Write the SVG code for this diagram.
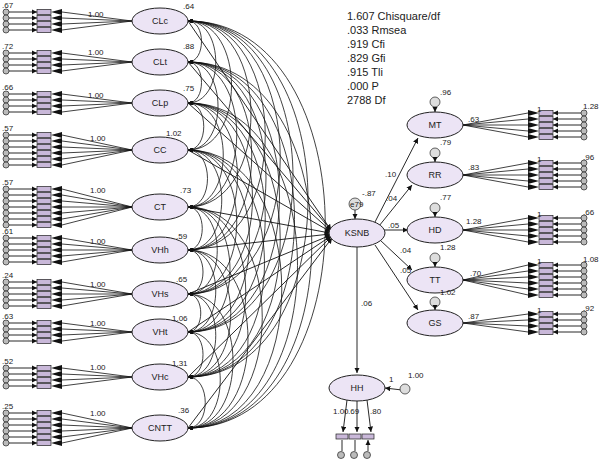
<svg xmlns="http://www.w3.org/2000/svg" xmlns:xlink="http://www.w3.org/1999/xlink" width="600" height="462" viewBox="0 0 600 462">
<style>
text{font-family:"Liberation Sans",Arial,sans-serif;font-size:8px;fill:#222}
.lat{fill:#ece4f5;stroke:#222;stroke-width:1}
.ln{fill:none;stroke:#111;stroke-width:0.8}
.cv{fill:none;stroke:#111;stroke-width:0.8;marker-start:url(#ah);marker-end:url(#ah)}
.ar{fill:none;stroke:#111;stroke-width:0.9;marker-end:url(#ah)}
.st{font-size:11px}
.nm{font-size:9px;text-anchor:middle}
</style>
<defs>
<marker id="ah" viewBox="0 0 10 10" refX="10" refY="5" markerWidth="6" markerHeight="6" orient="auto-start-reverse"><path d="M0,0L10,5L0,10z" fill="#111"/></marker>
<g id="row">
<circle cx="6" cy="0" r="3" fill="#bbb" stroke="#222" stroke-width="0.7"/>
<line x1="9" y1="0" x2="37" y2="0" class="ar"/>
<rect x="37" y="-2.6" width="14" height="5.2" fill="#c9b8d9" stroke="#222" stroke-width="0.7"/>
<path d="M51,0L62,-3L62,3z" fill="#111"/>
</g>
</defs>
<g id="connectors">
<path class="cv" d="M188 21C206 21 206 62 188 62"/><path class="cv" d="M188 21C225 21 225 103 188 103"/><path class="cv" d="M188 21C246 21 246 150 188 150"/><path class="cv" d="M188 21C272 21 272 207 188 207"/><path class="cv" d="M188 21C291 21 291 250 188 250"/><path class="cv" d="M188 21C311 21 311 294 188 294"/><path class="cv" d="M188 21C328 21 328 332 188 332"/><path class="cv" d="M188 21C348 21 348 377 188 377"/><path class="cv" d="M188 21C371 21 371 428 188 428"/>
<path class="cv" d="M188 62C206 62 206 103 188 103"/><path class="cv" d="M188 62C228 62 228 150 188 150"/><path class="cv" d="M188 62C253 62 253 207 188 207"/><path class="cv" d="M188 62C273 62 273 250 188 250"/><path class="cv" d="M188 62C292 62 292 294 188 294"/><path class="cv" d="M188 62C310 62 310 332 188 332"/><path class="cv" d="M188 62C330 62 330 377 188 377"/><path class="cv" d="M188 62C353 62 353 428 188 428"/>
<path class="cv" d="M188 103C209 103 209 150 188 150"/><path class="cv" d="M188 103C235 103 235 207 188 207"/><path class="cv" d="M188 103C254 103 254 250 188 250"/><path class="cv" d="M188 103C274 103 274 294 188 294"/><path class="cv" d="M188 103C291 103 291 332 188 332"/><path class="cv" d="M188 103C311 103 311 377 188 377"/><path class="cv" d="M188 103C334 103 334 428 188 428"/>
<path class="cv" d="M188 150C214 150 214 207 188 207"/><path class="cv" d="M188 150C233 150 233 250 188 250"/><path class="cv" d="M188 150C253 150 253 294 188 294"/><path class="cv" d="M188 150C270 150 270 332 188 332"/><path class="cv" d="M188 150C290 150 290 377 188 377"/><path class="cv" d="M188 150C313 150 313 428 188 428"/>
<path class="cv" d="M188 207C207 207 207 250 188 250"/><path class="cv" d="M188 207C227 207 227 294 188 294"/><path class="cv" d="M188 207C244 207 244 332 188 332"/><path class="cv" d="M188 207C265 207 265 377 188 377"/><path class="cv" d="M188 207C287 207 287 428 188 428"/>
<path class="cv" d="M188 250C208 250 208 294 188 294"/><path class="cv" d="M188 250C225 250 225 332 188 332"/><path class="cv" d="M188 250C245 250 245 377 188 377"/><path class="cv" d="M188 250C268 250 268 428 188 428"/>
<path class="cv" d="M188 294C205 294 205 332 188 332"/><path class="cv" d="M188 294C225 294 225 377 188 377"/><path class="cv" d="M188 294C248 294 248 428 188 428"/>
<path class="cv" d="M188 332C208 332 208 377 188 377"/><path class="cv" d="M188 332C231 332 231 428 188 428"/>
<path class="cv" d="M188 377C211 377 211 428 188 428"/>
<path class="ar" d="M188 21L331 230"/><path class="ar" d="M188 62L331 230"/><path class="ar" d="M188 103L331 231"/><path class="ar" d="M188 150L331 232"/><path class="ar" d="M188 207L330 233"/><path class="ar" d="M188 250L330 234"/><path class="ar" d="M188 294L331 235"/><path class="ar" d="M188 332L331 236"/><path class="ar" d="M188 377L331 237"/><path class="ar" d="M188 428L332 238"/>
<path class="ar" d="M375 222L418 138"/><path class="ar" d="M379 226L412 185"/><path class="ar" d="M384 230L408 230"/><path class="ar" d="M380 240L412 270"/><path class="ar" d="M375 245L418 310"/>
<path class="ar" d="M357 247L357 373"/>
<path class="ar" d="M355 210L355 219"/>
<path class="ar" d="M402 390L385 388"/>
<path class="ar" d="M347 400L343 432"/><path class="ar" d="M357 400L357 432"/><path class="ar" d="M367 400L371 432"/>
<g class="ln">
<path d="M62 12L132 21M62 18L132 21M62 24L132 21M62 30L132 21"/>
<path d="M62 53L132 62M62 59L132 62M62 65L132 62M62 71L132 62"/>
<path d="M62 94L132 103M62 100L132 103M62 106L132 103M62 112L132 103"/>
<path d="M62 135L132 150M62 141L132 150M62 147L132 150M62 153L132 150M62 159L132 150M62 165L132 150"/>
<path d="M62 189L132 207M62 195L132 207M62 201L132 207M62 207L132 207M62 213L132 207M62 219L132 207M62 225L132 207"/>
<path d="M62 238L132 250M62 244L132 250M62 250L132 250M62 256L132 250M62 262L132 250"/>
<path d="M62 282L132 294M62 288L132 294M62 294L132 294M62 300L132 294M62 306L132 294"/>
<path d="M62 323L132 332M62 329L132 332M62 335L132 332M62 341L132 332"/>
<path d="M62 368L132 377M62 374L132 377M62 380L132 377M62 386L132 377"/>
<path d="M62 413L132 428M62 419L132 428M62 425L132 428M62 431L132 428M62 437L132 428M62 443L132 428"/>
<path d="M528 113L463 125M528 119L463 125M528 125L463 125M528 131L463 125M528 137L463 125"/>
<path d="M528 163L463 175M528 169L463 175M528 175L463 175M528 181L463 175M528 187L463 175"/>
<path d="M528 218L463 230M528 224L463 230M528 230L463 230M528 236L463 230M528 242L463 230"/>
<path d="M528 265L463 280M528 271L463 280M528 277L463 280M528 283L463 280M528 289L463 280M528 295L463 280"/>
<path d="M528 314L463 323M528 320L463 323M528 326L463 323M528 332L463 323"/>
</g>
</g>
<g id="indicators">
<use href="#row" y="12"/><use href="#row" y="18"/><use href="#row" y="24"/><use href="#row" y="30"/>
<use href="#row" y="53"/><use href="#row" y="59"/><use href="#row" y="65"/><use href="#row" y="71"/>
<use href="#row" y="94"/><use href="#row" y="100"/><use href="#row" y="106"/><use href="#row" y="112"/>
<use href="#row" y="135"/><use href="#row" y="141"/><use href="#row" y="147"/><use href="#row" y="153"/><use href="#row" y="159"/><use href="#row" y="165"/>
<use href="#row" y="189"/><use href="#row" y="195"/><use href="#row" y="201"/><use href="#row" y="207"/><use href="#row" y="213"/><use href="#row" y="219"/><use href="#row" y="225"/>
<use href="#row" y="238"/><use href="#row" y="244"/><use href="#row" y="250"/><use href="#row" y="256"/><use href="#row" y="262"/>
<use href="#row" y="282"/><use href="#row" y="288"/><use href="#row" y="294"/><use href="#row" y="300"/><use href="#row" y="306"/>
<use href="#row" y="323"/><use href="#row" y="329"/><use href="#row" y="335"/><use href="#row" y="341"/>
<use href="#row" y="368"/><use href="#row" y="374"/><use href="#row" y="380"/><use href="#row" y="386"/>
<use href="#row" y="413"/><use href="#row" y="419"/><use href="#row" y="425"/><use href="#row" y="431"/><use href="#row" y="437"/><use href="#row" y="443"/>
<g transform="translate(590,0) scale(-1,1)">
<use href="#row" y="113"/><use href="#row" y="119"/><use href="#row" y="125"/><use href="#row" y="131"/><use href="#row" y="137"/>
<use href="#row" y="163"/><use href="#row" y="169"/><use href="#row" y="175"/><use href="#row" y="181"/><use href="#row" y="187"/>
<use href="#row" y="218"/><use href="#row" y="224"/><use href="#row" y="230"/><use href="#row" y="236"/><use href="#row" y="242"/>
<use href="#row" y="265"/><use href="#row" y="271"/><use href="#row" y="277"/><use href="#row" y="283"/><use href="#row" y="289"/><use href="#row" y="295"/>
<use href="#row" y="314"/><use href="#row" y="320"/><use href="#row" y="326"/><use href="#row" y="332"/>
</g>
<rect x="336" y="434" width="12" height="5" fill="#c9b8d9" stroke="#222" stroke-width="0.7"/>
<rect x="349" y="434" width="12" height="5" fill="#c9b8d9" stroke="#222" stroke-width="0.7"/>
<rect x="362" y="434" width="12" height="5" fill="#c9b8d9" stroke="#222" stroke-width="0.7"/>
<circle cx="341" cy="455" r="3.5" fill="#bbb" stroke="#222" stroke-width="0.7"/>
<circle cx="354" cy="455" r="3.5" fill="#bbb" stroke="#222" stroke-width="0.7"/>
<circle cx="367" cy="455" r="3.5" fill="#bbb" stroke="#222" stroke-width="0.7"/>
<path class="ar" d="M342 451L342 440M355 451L355 440M368 451L368 440"/>
</g>
<g id="n-CLc"><ellipse class="lat" cx="160" cy="21" rx="28" ry="13"/><text class="nm" x="160" y="24">CLc</text><text x="183" y="9">.64</text><text x="88" y="17">1.00</text></g>
<g id="n-CLt"><ellipse class="lat" cx="160" cy="62" rx="28" ry="13"/><text class="nm" x="160" y="65">CLt</text><text x="183" y="49">.88</text><text x="88" y="55">1.00</text></g>
<g id="n-CLp"><ellipse class="lat" cx="160" cy="103" rx="28" ry="13"/><text class="nm" x="160" y="106">CLp</text><text x="183" y="91">.75</text><text x="88" y="98">1.00</text></g>
<g id="n-CC"><ellipse class="lat" cx="160" cy="150" rx="28" ry="13"/><text class="nm" x="160" y="153">CC</text><text x="166" y="136">1.02</text><text x="90" y="141">1.00</text></g>
<g id="n-CT"><ellipse class="lat" cx="160" cy="207" rx="28" ry="13"/><text class="nm" x="160" y="210">CT</text><text x="180" y="193">.73</text><text x="90" y="193">1.00</text></g>
<g id="n-VHh"><ellipse class="lat" cx="160" cy="250" rx="28" ry="13"/><text class="nm" x="160" y="253">VHh</text><text x="176" y="239">.59</text><text x="90" y="244">1.00</text></g>
<g id="n-VHs"><ellipse class="lat" cx="160" cy="294" rx="28" ry="13"/><text class="nm" x="160" y="297">VHs</text><text x="176" y="282">.65</text><text x="90" y="287">1.00</text></g>
<g id="n-VHt"><ellipse class="lat" cx="160" cy="332" rx="28" ry="13"/><text class="nm" x="160" y="335">VHt</text><text x="172" y="321">1.06</text><text x="90" y="326">1.00</text></g>
<g id="n-VHc"><ellipse class="lat" cx="160" cy="377" rx="28" ry="13"/><text class="nm" x="160" y="380">VHc</text><text x="172" y="366">1.31</text><text x="90" y="370">1.00</text></g>
<g id="n-CNTT"><ellipse class="lat" cx="160" cy="428" rx="28" ry="13"/><text class="nm" x="160" y="431">CNTT</text><text x="178" y="413">.36</text><text x="90" y="416">1.00</text></g>
<g id="n-KSNB"><ellipse class="lat" cx="357" cy="233" rx="28" ry="14"/><text class="nm" x="357" y="236">KSNB</text><circle cx="355" cy="204" r="6" fill="#ddd" stroke="#222" stroke-width="0.7"/><text x="350" y="207" font-size="6">e79</text><text x="362" y="196">-.87</text></g>
<g id="n-MT"><ellipse class="lat" cx="435" cy="125" rx="28" ry="13"/><text class="nm" x="435" y="128">MT</text><circle cx="435" cy="102" r="5" fill="#ddd" stroke="#222" stroke-width="0.7"/><path class="ar" d="M435 107L435 112"/><text x="440" y="95">.96</text></g>
<g id="n-RR"><ellipse class="lat" cx="435" cy="175" rx="28" ry="13"/><text class="nm" x="435" y="178">RR</text><circle cx="435" cy="153" r="5" fill="#ddd" stroke="#222" stroke-width="0.7"/><path class="ar" d="M435 158L435 162"/><text x="440" y="145">.79</text></g>
<g id="n-HD"><ellipse class="lat" cx="435" cy="230" rx="28" ry="13"/><text class="nm" x="435" y="233">HD</text><circle cx="435" cy="208" r="5" fill="#ddd" stroke="#222" stroke-width="0.7"/><path class="ar" d="M435 213L435 217"/><text x="440" y="200">.77</text></g>
<g id="n-TT"><ellipse class="lat" cx="435" cy="280" rx="28" ry="13"/><text class="nm" x="435" y="283">TT</text><circle cx="435" cy="258" r="5" fill="#ddd" stroke="#222" stroke-width="0.7"/><path class="ar" d="M435 263L435 267"/><text x="440" y="250">1.28</text></g>
<g id="n-GS"><ellipse class="lat" cx="435" cy="323" rx="28" ry="13"/><text class="nm" x="435" y="326">GS</text><circle cx="435" cy="302" r="5" fill="#ddd" stroke="#222" stroke-width="0.7"/><path class="ar" d="M435 307L435 310"/><text x="440" y="295">1.02</text></g>
<g id="n-HH"><ellipse class="lat" cx="357" cy="388" rx="28" ry="13"/><text class="nm" x="357" y="391">HH</text><circle cx="405" cy="389" r="5" fill="#ddd" stroke="#222" stroke-width="0.7"/><text x="389" y="382">1</text><text x="408" y="378">1.00</text><text x="333" y="414">1.00</text><text x="348" y="414">.69</text><text x="370" y="414">.80</text></g>
<g id="labels">
<text x="385" y="177">.10</text><text x="386" y="201">.04</text><text x="388" y="228">.05</text><text x="400" y="253">.04</text><text x="400" y="273">.05</text><text x="361" y="306">.06</text>
<text x="537" y="112">1</text><text x="537" y="162">1</text><text x="537" y="217">1</text><text x="537" y="264">1</text><text x="537" y="313">1</text>
<text x="468" y="122">.63</text><text x="468" y="170">.83</text><text x="466" y="224">1.28</text><text x="470" y="276">.70</text><text x="468" y="319">.87</text>
<text x="583" y="109" font-size="7">1.28</text><text x="583" y="160" font-size="7">.96</text><text x="583" y="215" font-size="7">.66</text><text x="583" y="262" font-size="7">1.08</text><text x="583" y="311" font-size="7">.92</text>
<text x="2" y="8" font-size="7">.67</text><text x="2" y="49" font-size="7">.72</text><text x="2" y="90" font-size="7">.66</text><text x="2" y="131" font-size="7">.57</text><text x="2" y="185" font-size="7">.57</text><text x="2" y="234" font-size="7">.61</text><text x="2" y="278" font-size="7">.24</text><text x="2" y="319" font-size="7">.63</text><text x="2" y="364" font-size="7">.52</text><text x="2" y="409" font-size="7">.25</text>
<text class="st" x="347" y="20">1.607 Chisquare/df</text>
<text class="st" x="347" y="34">.033 Rmsea</text>
<text class="st" x="347" y="48">.919 Cfi</text>
<text class="st" x="347" y="62">.829 Gfi</text>
<text class="st" x="347" y="76">.915 Tli</text>
<text class="st" x="347" y="90">.000 P</text>
<text class="st" x="347" y="104">2788 Df</text>
</g>
</svg>
